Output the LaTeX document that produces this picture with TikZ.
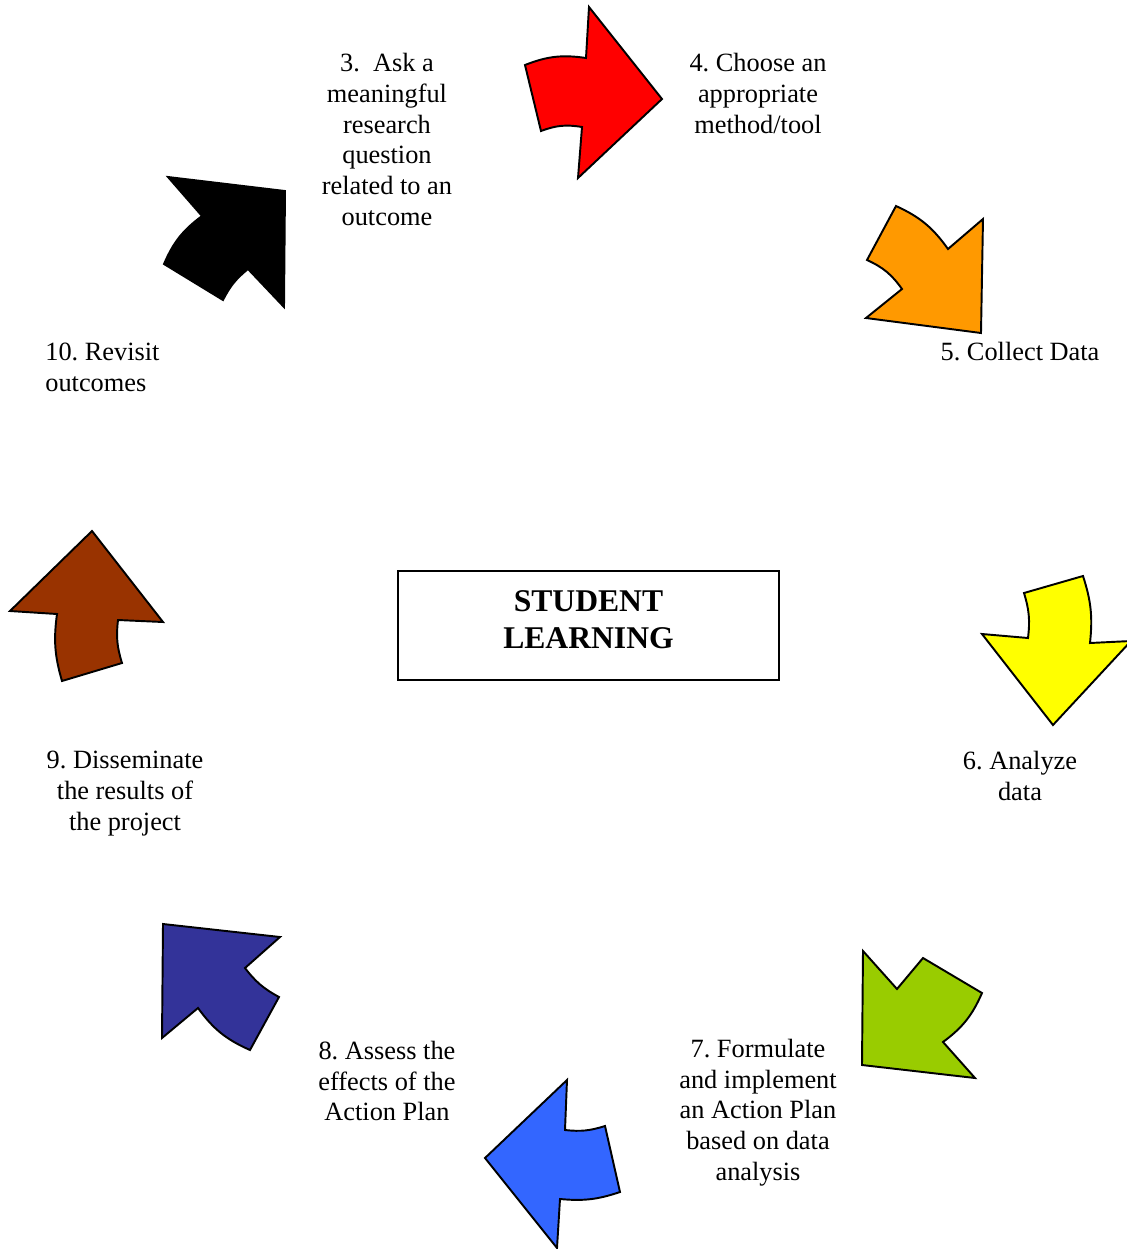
\documentclass[tikz,border=0pt]{standalone}
\usepackage{fontspec}
\setmainfont{Liberation Serif}
\usetikzlibrary{positioning}
\frenchspacing

\definecolor{stepred}{HTML}{FF0000}
\definecolor{steporange}{HTML}{FF9900}
\definecolor{stepyellow}{HTML}{FFFF00}
\definecolor{stepgreen}{HTML}{99CC00}
\definecolor{stepblue}{HTML}{3366FF}
\definecolor{stepnavy}{HTML}{333399}
\definecolor{stepbrown}{HTML}{993300}

\begin{document}
\begin{tikzpicture}[
    x=0.02cm, y=-0.02cm,
    lbl/.style = { align=center,inner sep=0pt,font=\fontsize{15}{17.5}\selectfont },
    centerbox/.style = { draw,line width=1.1pt,minimum width=7.62cm,minimum height=2.18cm,
                         text depth=7pt,align=center,font=\fontsize{18}{21}\selectfont\bfseries },
    cyclearrow/.style = { draw,line width=1.1pt,line join=miter }
    ]
    \useasboundingbox (0,0) rectangle (1127,1249);
    % Definitions
    \coordinate (ask)  at ( 387, 139.5);
    \coordinate (cho)  at ( 758,  93.5);
    \coordinate (col)  at (1020, 352  );
    \coordinate (ana)  at (1020, 776  );
    \coordinate (frm)  at ( 758,1112.5);
    \coordinate (ass)  at ( 387,1081  );
    \coordinate (dis)  at ( 125, 793.5);
    \coordinate (rev)  at (  45, 367.5);
    \coordinate (mid)  at ( 588.5,625.5);
    % Nodes
    \node(SL) at (mid) [centerbox] {STUDENT\\LEARNING};
    \node(A3) at (ask) [lbl] {3.\ \ Ask a\\meaningful\\research\\question\\related to an\\outcome};
    \node(A4) at (cho) [lbl] {4. Choose an\\appropriate\\method/tool};
    \node(A5) at (col) [lbl] {5. Collect Data};
    \node(A6) at (ana) [lbl] {6. Analyze\\data};
    \node(A7) at (frm) [lbl] {7. Formulate\\and implement\\an Action Plan\\based on data\\analysis};
    \node(A8) at (ass) [lbl] {8. Assess the\\effects of the\\Action Plan};
    \node(A9) at (dis) [lbl] {9. Disseminate\\the results of\\the project};
    \node(A10) at (rev) [lbl,align=left,anchor=west] {10. Revisit\\outcomes};
    % Arrows
    \draw[cyclearrow,fill=stepred]    (525,65) to[bend left=15] (586,58) -- (589,7) -- (662,99)
                                      -- (578,178) -- (582,127) to[bend right=15] (541,131) -- cycle;
    \draw[cyclearrow,fill=steporange] (896,206) to[bend left=15] (948,249) -- (983,219) -- (981,333)
                                      -- (866,318) -- (902,289) to[bend right=15] (867,260) -- cycle;
    \draw[cyclearrow,fill=stepyellow] (1083,576) to[bend left=12] (1090,643) -- (1131,641) -- (1053,725)
                                      -- (982,634) -- (1028,638) to[bend right=12] (1024,593) -- cycle;
    \draw[cyclearrow,fill=stepgreen]  (863,951) -- (897,989) -- (923,958) -- (982,993)
                                      to[bend left=15] (943,1042) -- (975,1078) -- (862,1065) -- cycle;
    \draw[cyclearrow,fill=stepblue]   (567,1080) -- (565,1130) to[bend right=12] (605,1126) -- (620,1192)
                                      to[bend left=12] (560,1199) -- (557,1248) -- (485,1158) -- cycle;
    \draw[cyclearrow,fill=stepnavy]   (163,924) -- (280,937) -- (245,968) to[bend right=12] (279,997)
                                      -- (250,1050) to[bend left=15] (198,1008) -- (162,1038) -- cycle;
    \draw[cyclearrow,fill=stepbrown]  (92,531) -- (163,622) -- (118,620) to[bend right=12] (122,663)
                                      -- (62,681) to[bend left=12] (57,614) -- (10,611) -- cycle;
    \draw[cyclearrow,fill=black]      (168,177) -- (285,191) -- (284,307) -- (248,269) to[bend right=12] (223,300)
                                      -- (164,264) to[bend left=15] (202,216) -- cycle;
\end{tikzpicture}
\end{document}
